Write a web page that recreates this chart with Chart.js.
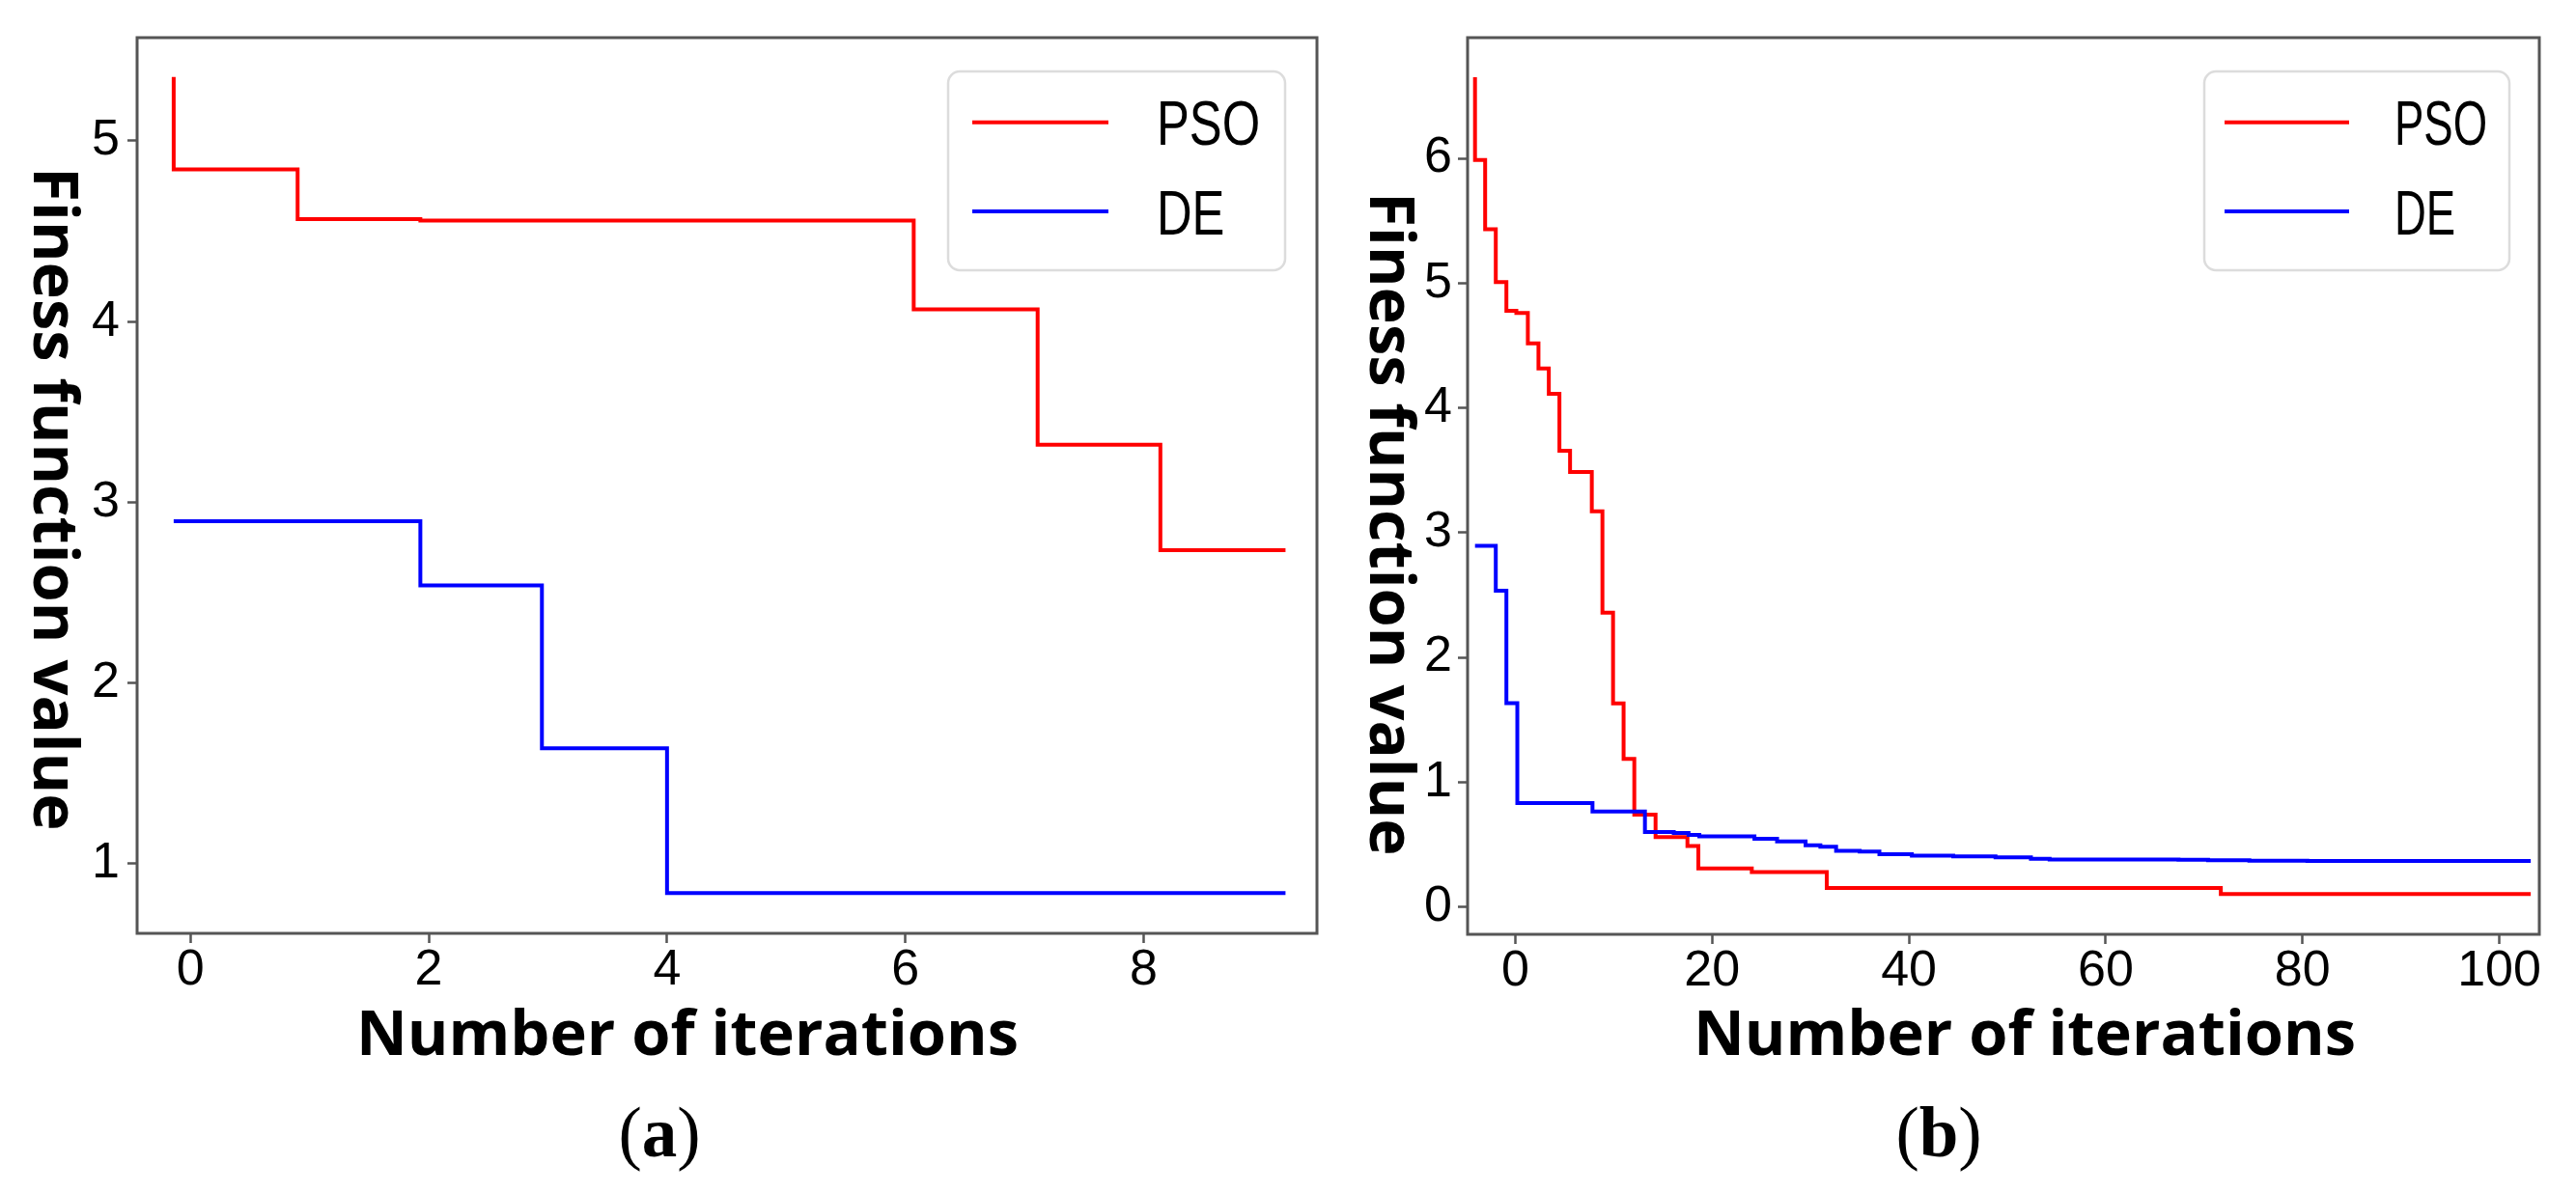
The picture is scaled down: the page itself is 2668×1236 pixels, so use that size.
<!DOCTYPE html>
<html>
<head>
<meta charset="utf-8">
<script src="https://cdn.jsdelivr.net/npm/chart.js@4.4.1/dist/chart.umd.min.js"></script>
<style>
html,body{margin:0;padding:0;background:#fff;}
body{width:2668px;height:1236px;position:relative;overflow:hidden;}
canvas{position:absolute;top:0;}
.cap{position:absolute;font-family:"Liberation Serif","Times New Roman",serif;font-size:73px;line-height:73px;color:#000;transform:translateX(-50%);white-space:nowrap;}
.cap b{font-weight:700;}
</style>
</head>
<body>
<canvas id="ca" width="1400" height="1120" style="left:0px"></canvas>
<canvas id="cb" width="1268" height="1120" style="left:1400px"></canvas>
<div class="cap" style="left:683px;top:1137px">(<b>a</b>)</div>
<div class="cap" style="left:2008px;top:1137px">(<b>b</b>)</div>
<script>
// ---------- data ----------
const seriesNames = ['PSO', 'DE'];
const xTitle = 'Number of iterations';
const yTitle = 'Finess function value';

// chart (a)
const aIterPSO = [-0.14, -0.14, 0.90, 1.93, 6.07, 7.11, 8.14, 9.19];
const aFitPSO  = [5.354, 4.842, 4.567, 4.559, 4.068, 3.319, 2.735, 2.735];
const aIterDE  = [-0.14, 1.93, 2.95, 4.00, 9.19];
const aFitDE   = [2.896, 2.540, 1.639, 0.838, 0.838];
const aXTicks  = [0, 2, 4, 6, 8];
const aYTicks  = [1, 2, 3, 4, 5];

// chart (b)
const bIterPSO = [-4.1, -4.1, -3.07, -1.99, -0.91, 0.1, 1.27, 2.35, 3.4, 4.48, 5.56, 7.77, 8.85, 9.93, 11.0, 12.09, 14.25, 17.49, 18.6, 24.03, 31.65, 71.7, 103.2];
const bFitPSO  = [6.65, 5.986, 5.432, 5.009, 4.777, 4.76, 4.517, 4.316, 4.112, 3.656, 3.486, 3.171, 2.359, 1.632, 1.186, 0.74, 0.561, 0.489, 0.309, 0.28, 0.152, 0.103, 0.103];
const bIterDE  = [-4.1, -1.99, -0.91, 0.2, 7.84, 13.17, 16.1, 17.6, 18.7, 24.3, 26.6, 29.5, 31.0, 32.6, 35.0, 37.0, 40.3, 44.5, 48.8, 52.4, 54.3, 67.4, 70.4, 74.6, 80.5, 103.2];
const bFitDE   = [2.895, 2.534, 1.634, 0.833, 0.765, 0.601, 0.593, 0.578, 0.567, 0.547, 0.526, 0.495, 0.483, 0.451, 0.445, 0.423, 0.412, 0.405, 0.397, 0.387, 0.381, 0.378, 0.374, 0.371, 0.368, 0.368];
const bXTicks  = [0, 20, 40, 60, 80, 100];
const bYTicks  = [0, 1, 2, 3, 4, 5, 6];

// ---------- helpers ----------
const toPts = (xs, ys) => xs.map((x, i) => ({x: x, y: ys[i]}));
const TICK_FONT = {family: '"Liberation Sans", Arial, sans-serif', size: 52, lineHeight: 1};
const AXIS_COLOR = '#555555';

const framePlugin = {
  id: 'framePlugin',
  afterDatasetsDraw(chart, args, opts) {
    const ctx = chart.ctx, a = chart.chartArea;
    ctx.save();
    ctx.strokeStyle = AXIS_COLOR;
    ctx.lineWidth = 3;
    ctx.strokeRect(a.left, a.top, a.right - a.left, a.bottom - a.top);
    ctx.restore();
  },
  afterDraw(chart, args, opts) {
    const ctx = chart.ctx;
    ctx.save();
    ctx.fillStyle = '#000';
    // x title
    ctx.font = '700 65px "Open Sans", "DejaVu Sans", sans-serif';
    ctx.textAlign = 'center';
    ctx.textBaseline = 'alphabetic';
    ctx.fillText(xTitle, opts.xTitleX, opts.xTitleY);
    // y title (reads top to bottom)
    ctx.save();
    ctx.translate(opts.yTitleX, opts.yTitleY);
    ctx.rotate(Math.PI / 2);
    ctx.fillText(yTitle, 0, 0);
    ctx.restore();
    // legend box
    const L = opts.legend;
    ctx.beginPath();
    ctx.roundRect(L.x, L.y, L.w, L.h, 12);
    ctx.fillStyle = 'rgba(255,255,255,0.85)';
    ctx.fill();
    ctx.strokeStyle = '#dcdcdc';
    ctx.lineWidth = 2.5;
    ctx.stroke();
    chart.data.datasets.forEach((ds, i) => {
      const ly = L.rowY[i];
      ctx.beginPath();
      ctx.moveTo(L.lineX0, ly);
      ctx.lineTo(L.lineX1, ly);
      ctx.strokeStyle = ds.borderColor;
      ctx.lineWidth = 4;
      ctx.stroke();
      ctx.save();
      ctx.translate(L.textX, ly + 23.5);
      ctx.scale(L.textScale, 1);
      ctx.font = '400 65px "Liberation Sans", Arial, sans-serif';
      ctx.textAlign = 'left';
      ctx.textBaseline = 'alphabetic';
      ctx.fillStyle = '#000';
      ctx.fillText(ds.label, 0, 0);
      ctx.restore();
    });
    ctx.restore();
  }
};

function makeChart(id, c) {
  return new Chart(document.getElementById(id), {
    type: 'line',
    data: {
      datasets: [
        {label: seriesNames[0], data: c.pso, borderColor: '#ff0000', borderWidth: 4, stepped: 'before', pointRadius: 0, fill: false, order: 2},
        {label: seriesNames[1], data: c.de,  borderColor: '#0000ff', borderWidth: 4, stepped: 'before', pointRadius: 0, fill: false, order: 1}
      ]
    },
    options: {
      responsive: false,
      animation: false,
      devicePixelRatio: 1,
      events: [],
      layout: {padding: {left: 0, top: c.padTop, right: c.padRight, bottom: 0}},
      plugins: {
        legend: {display: false},
        tooltip: {enabled: false},
        framePlugin: c.deco
      },
      scales: {
        x: {
          type: 'linear', min: c.xMin, max: c.xMax,
          afterFit(s) { s.height = c.xAxisH; },
          afterBuildTicks(s) { s.ticks = c.xTicks.map(v => ({value: v})); },
          ticks: {font: TICK_FONT, color: '#000', padding: c.xPad, maxRotation: 0, autoSkip: false, callback: v => String(v)},
          grid: {display: true, drawOnChartArea: false, drawTicks: true, tickLength: 10, tickWidth: 2.5, tickColor: AXIS_COLOR},
          border: {display: false}
        },
        y: {
          type: 'linear', min: c.yMin, max: c.yMax,
          afterFit(s) { s.width = c.yAxisW; },
          afterBuildTicks(s) { s.ticks = c.yTicks.map(v => ({value: v})); },
          ticks: {font: TICK_FONT, color: '#000', padding: c.yPad, autoSkip: false, callback: v => String(v)},
          grid: {display: true, drawOnChartArea: false, drawTicks: true, tickLength: 10, tickWidth: 2.5, tickColor: AXIS_COLOR},
          border: {display: false}
        }
      }
    },
    plugins: [framePlugin]
  });
}

makeChart('ca', {
  pso: toPts(aIterPSO, aFitPSO), de: toPts(aIterDE, aFitDE),
  xTicks: aXTicks, yTicks: aYTicks,
  xMin: -0.447, xMax: 9.454, yMin: 0.615, yMax: 5.571,
  padTop: 39, padRight: 36, xAxisH: 153, yAxisW: 142, xPad: 3, yPad: 8,
  deco: {
    xTitleX: 712, xTitleY: 1093, yTitleX: 35, yTitleY: 517,
    legend: {x: 982, y: 74, w: 349, h: 206, lineX0: 1007, lineX1: 1148, rowY: [126.7, 219], textX: 1198, textScale: 0.78}
  }
});

makeChart('cb', {
  pso: toPts(bIterPSO, bFitPSO), de: toPts(bIterDE, bFitDE),
  xTicks: bXTicks, yTicks: bYTicks,
  xMin: -4.855, xMax: 104.07, yMin: -0.219, yMax: 6.967,
  padTop: 39, padRight: 38, xAxisH: 152, yAxisW: 120, xPad: 3, yPad: 6,
  deco: {
    xTitleX: 697, xTitleY: 1093, yTitleX: 19, yTitleY: 543,
    legend: {x: 883, y: 74, w: 316, h: 206, lineX0: 904, lineX1: 1033, rowY: [126.7, 219], textX: 1080, textScale: 0.70}
  }
});
</script>
</body>
</html>
